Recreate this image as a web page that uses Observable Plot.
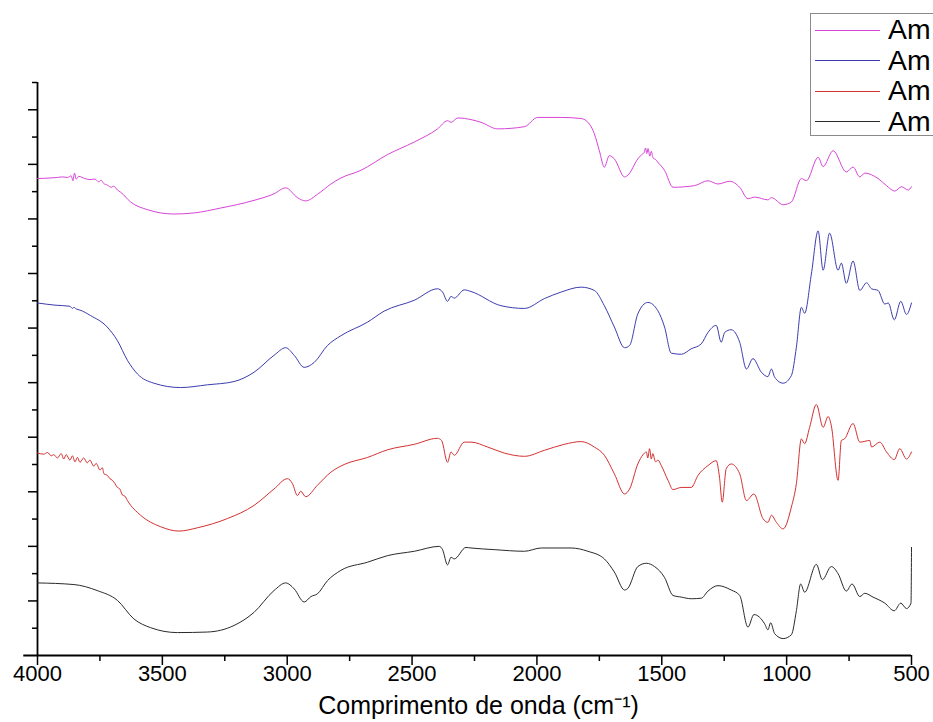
<!DOCTYPE html>
<html>
<head>
<meta charset="utf-8">
<script src="https://cdn.jsdelivr.net/npm/d3@7"></script>
<script src="https://cdn.jsdelivr.net/npm/@observablehq/plot@0.6"></script>
<style>
  html, body { margin: 0; padding: 0; background: #fff; }
  #wrap { position: relative; width: 933px; height: 722px; overflow: hidden; font-family: "Liberation Sans", Arial, sans-serif; }
  #legend { position: absolute; left: 810px; top: 13px; width: 150px; height: 123px; border: 1.5px solid #8a8a8a; background: #fff; box-sizing: border-box; }
  .row { position: absolute; left: 4px; height: 30px; display: flex; align-items: center; }
  .row .sw { width: 65px; height: 0; border-top: 1.2px solid; margin-right: 8px; }
  .row span { font-size: 27px; color: #000; line-height: 30px; display: inline-block; transform: scaleX(1.05); transform-origin: left center; }
</style>
</head>
<body>
<div id="wrap"><div id="legend"></div></div>
<script>
// x axis ticks (wavenumber, cm-1)
const xMajor = [4000, 3500, 3000, 2500, 2000, 1500, 1000, 500];
const xMinor = [3750, 3250, 2750, 2250, 1750, 1250, 750];
// y axis ticks (arbitrary transmittance units, no labels)
const yMajor = [1, 2, 3, 4, 5, 6, 7, 8, 9, 10];
const yMinor = [0.5, 1.5, 2.5, 3.5, 4.5, 5.5, 6.5, 7.5, 8.5, 9.5, 10.5];

const seriesNames = ["Am", "Am", "Am", "Am"];
const seriesColors = ["#d844d8", "#3c3cae", "#d43030", "#2a2a2a"];

// [wavenumber, value]
const magenta = [
  [4000,8.74],[3950,8.75],[3920,8.76],[3900,8.77],[3880,8.76],[3865,8.79],[3858,8.70],[3852,8.84],[3845,8.73],
  [3835,8.78],[3810,8.74],[3790,8.72],[3770,8.73],[3755,8.68],[3745,8.71],[3735,8.65],[3720,8.62],[3705,8.58],
  [3695,8.60],[3680,8.53],[3667,8.49],[3627,8.31],[3560,8.17],[3454,8.09],[3373,8.11],[3266,8.20],[3133,8.34],
  [3053,8.46],[3006,8.57],[2959,8.39],[2926,8.33],[2879,8.45],[2825,8.64],[2785,8.75],[2705,8.89],[2598,9.18],
  [2491,9.41],[2398,9.65],[2358,9.80],[2344,9.77],[2317,9.85],[2264,9.82],[2224,9.77],[2157,9.65],[2050,9.69],
  [1997,9.86],[1903,9.86],[1823,9.84],[1790,9.74],[1770,9.56],[1750,9.25],[1730,8.95],[1710,9.16],[1690,9.10],
  [1649,8.77],[1636,8.80],[1596,9.10],[1580,9.18],[1570,9.22],[1565,9.30],[1560,9.20],[1555,9.29],[1548,9.15],
  [1542,9.24],[1535,9.12],[1525,9.09],[1516,9.04],[1489,8.89],[1455,8.58],[1369,8.61],[1315,8.70],[1275,8.64],
  [1228,8.69],[1188,8.58],[1155,8.37],[1128,8.40],[1075,8.35],[1061,8.39],[1014,8.26],[981,8.31],[941,8.74],
  [921,8.70],[874,9.13],[854,8.96],[814,9.25],[761,8.86],[734,8.95],[707,8.77],[687,8.84],[634,8.74],
  [600,8.61],[567,8.51],[540,8.59],[513,8.53],[500,8.59]
];
const blue = [
  [4000,6.46],[3930,6.42],[3870,6.40],[3860,6.36],[3854,6.38],[3845,6.35],[3830,6.33],[3788,6.23],[3721,6.02],
  [3680,5.77],[3640,5.41],[3600,5.16],[3534,4.99],[3427,4.91],[3320,4.96],[3213,5.02],[3133,5.19],[3053,5.50],
  [3006,5.64],[2972,5.50],[2932,5.28],[2892,5.37],[2839,5.68],[2785,5.86],[2678,6.11],[2612,6.31],[2491,6.51],
  [2398,6.72],[2378,6.66],[2358,6.49],[2344,6.58],[2331,6.55],[2291,6.70],[2264,6.67],[2144,6.41],[2050,6.36],
  [1970,6.54],[1903,6.66],[1823,6.75],[1770,6.69],[1730,6.41],[1690,6.02],[1649,5.64],[1629,5.68],[1596,6.26],
  [1556,6.47],[1516,6.32],[1489,6.02],[1462,5.54],[1422,5.52],[1382,5.62],[1342,5.71],[1315,5.92],[1282,6.05],
  [1262,5.74],[1248,5.92],[1222,5.97],[1188,5.74],[1161,5.25],[1135,5.44],[1101,5.19],[1075,5.11],[1061,5.25],
  [1048,5.10],[1014,4.99],[981,5.13],[961,5.65],[941,6.38],[928,6.27],[901,6.99],[874,7.78],[854,7.06],
  [828,7.74],[794,7.06],[781,7.19],[761,6.82],[734,7.23],[707,6.69],[680,6.83],[660,6.72],[634,6.69],
  [607,6.44],[593,6.46],[569,6.15],[543,6.49],[520,6.25],[500,6.46]
];
const red = [
  [4000,3.71],[3975,3.69],[3960,3.72],[3945,3.66],[3935,3.68],[3920,3.62],[3905,3.70],[3895,3.60],[3885,3.68],
  [3870,3.58],[3860,3.66],[3850,3.55],[3840,3.63],[3830,3.54],[3815,3.62],[3801,3.53],[3790,3.58],[3775,3.47],
  [3765,3.52],[3750,3.40],[3740,3.44],[3734,3.33],[3720,3.30],[3710,3.24],[3700,3.21],[3690,3.15],[3680,3.08],
  [3670,3.05],[3660,2.94],[3650,2.92],[3640,2.84],[3587,2.57],[3507,2.36],[3433,2.28],[3360,2.34],[3239,2.51],
  [3133,2.75],[3053,3.05],[2999,3.24],[2979,3.15],[2959,2.93],[2946,3.01],[2926,2.91],[2879,3.12],[2825,3.36],
  [2772,3.50],[2678,3.63],[2598,3.77],[2491,3.87],[2398,3.98],[2382,3.94],[2358,3.54],[2344,3.73],[2331,3.67],
  [2291,3.91],[2264,3.91],[2197,3.82],[2131,3.71],[2050,3.65],[1970,3.76],[1890,3.87],[1823,3.92],[1770,3.82],
  [1730,3.67],[1690,3.33],[1649,2.96],[1629,3.05],[1596,3.51],[1575,3.68],[1562,3.73],[1556,3.62],[1549,3.79],
  [1542,3.60],[1536,3.70],[1525,3.55],[1515,3.58],[1502,3.48],[1475,3.21],[1455,3.04],[1422,3.08],[1382,3.08],
  [1355,3.30],[1315,3.48],[1282,3.57],[1269,3.27],[1258,2.81],[1242,3.42],[1222,3.51],[1188,3.33],[1161,2.84],
  [1131,2.96],[1095,2.51],[1075,2.44],[1061,2.57],[1041,2.44],[1014,2.32],[981,2.72],[961,3.15],[941,3.97],
  [928,3.88],[908,4.18],[881,4.60],[854,4.18],[834,4.38],[821,4.21],[794,3.21],[781,3.94],[768,3.97],
  [734,4.25],[707,3.91],[667,3.94],[660,3.82],[627,3.91],[600,3.73],[569,3.59],[547,3.79],[520,3.60],[500,3.73]
];
const black = [
  [4000,1.33],[3854,1.30],[3761,1.19],[3680,1.01],[3614,0.67],[3547,0.51],[3440,0.42],[3320,0.43],[3213,0.55],
  [3133,0.79],[3053,1.19],[3006,1.33],[2972,1.22],[2932,0.98],[2905,1.08],[2879,1.13],[2839,1.37],[2785,1.56],
  [2678,1.71],[2598,1.83],[2491,1.91],[2391,2.00],[2378,1.94],[2358,1.66],[2344,1.80],[2331,1.77],[2284,1.98],
  [2264,1.97],[2171,1.94],[2050,1.91],[1983,1.97],[1863,1.97],[1796,1.91],[1730,1.77],[1690,1.53],[1649,1.20],
  [1636,1.23],[1596,1.63],[1562,1.69],[1529,1.63],[1489,1.43],[1455,1.10],[1422,1.07],[1382,1.04],[1342,1.05],
  [1315,1.18],[1275,1.28],[1222,1.20],[1188,1.10],[1155,0.52],[1131,0.75],[1088,0.58],[1075,0.47],[1064,0.60],
  [1048,0.40],[1014,0.31],[981,0.38],[961,0.82],[944,1.31],[928,1.16],[881,1.67],[857,1.39],[821,1.63],
  [794,1.50],[761,1.18],[738,1.31],[707,1.08],[687,1.14],[654,1.07],[607,0.96],[569,0.82],[543,0.96],
  [520,0.86],[502,0.96],[500,1.98]
];

const seriesData = [magenta, blue, red, black];

const chart = Plot.plot({
  width: 933,
  height: 722,
  marginLeft: 37,
  marginRight: 22,
  marginTop: 82,
  marginBottom: 67,
  style: { fontFamily: "'Liberation Sans', Arial, sans-serif", background: "#fff", color: "#000", overflow: "visible" },
  x: { domain: [4000, 500] },
  y: { domain: [0, 10.5] },
  marks: [
    Plot.axisX(xMajor, { tickSize: 10, tickPadding: 0, fontSize: 22, strokeWidth: 1.5, tickFormat: d => String(d), label: null }),
    Plot.axisX(xMinor, { tickSize: 6, strokeWidth: 1.5, tickFormat: () => "", label: null }),
    Plot.axisY(yMajor, { tickSize: 9, strokeWidth: 1.5, tickFormat: () => "", label: null }),
    Plot.axisY(yMinor, { tickSize: 5, strokeWidth: 1.5, tickFormat: () => "", label: null }),
    Plot.ruleY([0], { x1: 4055, x2: 500, strokeWidth: 1.8 }),
    Plot.ruleX([4000], { y1: 0, y2: 10.5, strokeWidth: 1.8 }),
    ...seriesData.map((arr, i) => Plot.line(arr, { x: d => d[0], y: d => d[1], stroke: seriesColors[i], strokeWidth: 1, curve: "monotone-x" })),
    Plot.text(["Comprimento de onda (cm⁻¹)"], { frameAnchor: "bottom", dy: 50, dx: 4, lineAnchor: "middle", fontSize: 25 })
  ]
});

const wrap = document.getElementById("wrap");
wrap.insertBefore(chart, wrap.firstChild);

const legend = document.getElementById("legend");
seriesNames.forEach((name, i) => {
  const r = document.createElement("div");
  r.className = "row";
  r.style.top = (1 + i * 30.5) + "px";
  const sw = document.createElement("div");
  sw.className = "sw";
  sw.style.borderTopColor = seriesColors[i];
  const t = document.createElement("span");
  t.textContent = name;
  r.appendChild(sw);
  r.appendChild(t);
  legend.appendChild(r);
});
</script>
</body>
</html>
